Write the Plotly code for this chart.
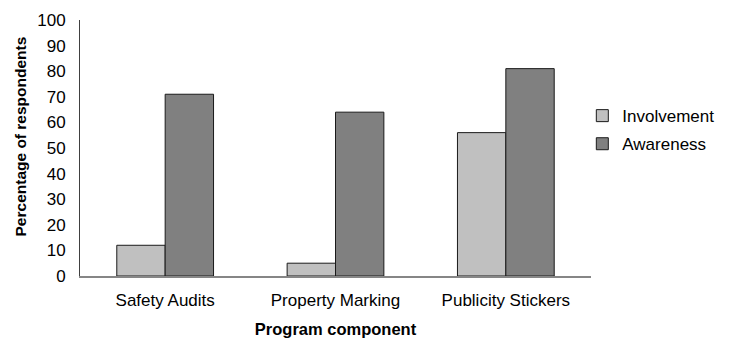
import plotly.graph_objects as go

categories = ["Safety Audits", "Property Marking", "Publicity Stickers"]
involvement = [12, 5, 56]
awareness = [71, 64, 81]
y_ticks = [0, 10, 20, 30, 40, 50, 60, 70, 80, 90, 100]

fig = go.Figure()
fig.add_trace(go.Bar(x=categories, y=involvement, name="Involvement", legendgroup="a",
                     marker=dict(color="#C0C0C0", line=dict(color="#1a1a1a", width=1))))
fig.add_trace(go.Bar(x=categories, y=awareness, name="Awareness", legendgroup="b",
                     marker=dict(color="#808080", line=dict(color="#1a1a1a", width=1))))

fig.update_layout(
    width=731, height=338,
    margin=dict(l=80, r=124, t=20, b=62),
    paper_bgcolor="white", plot_bgcolor="white",
    barmode="group", bargap=0.432, bargroupgap=0,
    font=dict(family="Liberation Sans, Arial", size=17, color="#000000"),
    showlegend=True,
    legend=dict(x=0.983, y=0.57, xanchor="left", yanchor="middle",
                font=dict(size=17), itemwidth=30, tracegroupgap=3,
                bgcolor="rgba(0,0,0,0)"),
    xaxis=dict(showline=True, linecolor="#868686", linewidth=1.5, ticks="",
               showgrid=False, tickfont=dict(size=17), ticklabelstandoff=8,
               automargin=False,
               title=dict(text="<b>Program component</b>", font=dict(size=16.5), standoff=15)),
    yaxis=dict(range=[0, 100], tickvals=y_ticks, showline=True, linecolor="#404040",
               linewidth=1, ticks="", showgrid=False, zeroline=False,
               tickfont=dict(size=17), ticklabelstandoff=10, automargin=False),
)

fig.add_annotation(text="<b>Percentage of respondents</b>", textangle=-90,
                   xref="paper", yref="paper", x=0, xshift=-60, y=0.545,
                   xanchor="center", yanchor="middle", showarrow=False,
                   font=dict(size=15.5, color="#000000"))

fig.add_annotation(text="program components",
                   xref="paper", yref="paper", x=0, xshift=43, y=1.0, yshift=18,
                   xanchor="left", yanchor="bottom", showarrow=False,
                   font=dict(family="Liberation Serif", size=23.5, color="#A0661A", style="italic"))

fig.write_html("out.html")
